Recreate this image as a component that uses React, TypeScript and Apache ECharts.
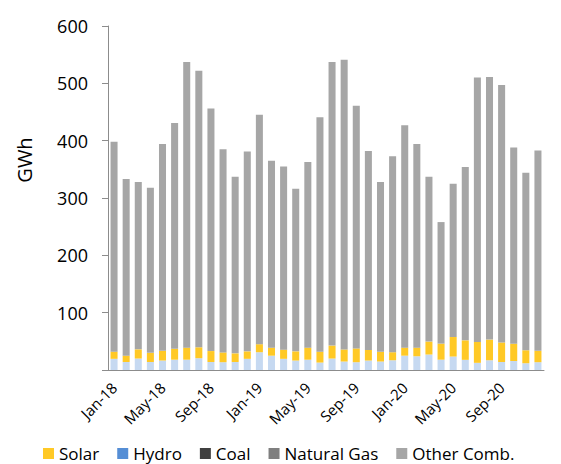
import React, { useEffect, useRef } from 'react';
import * as echarts from 'echarts';

const months = [
  'Jan-18', 'Feb-18', 'Mar-18', 'Apr-18', 'May-18', 'Jun-18', 'Jul-18', 'Aug-18', 'Sep-18', 'Oct-18', 'Nov-18', 'Dec-18',
  'Jan-19', 'Feb-19', 'Mar-19', 'Apr-19', 'May-19', 'Jun-19', 'Jul-19', 'Aug-19', 'Sep-19', 'Oct-19', 'Nov-19', 'Dec-19',
  'Jan-20', 'Feb-20', 'Mar-20', 'Apr-20', 'May-20', 'Jun-20', 'Jul-20', 'Aug-20', 'Sep-20', 'Oct-20', 'Nov-20', 'Dec-20',
];

const hydro = [
  19.5, 14, 20, 14, 16.5, 18, 18, 20.6, 14, 13.6, 14, 19.5,
  31, 25, 19.5, 16.5, 18, 13, 20, 14.8, 13.6, 16.5, 14.8, 17,
  25, 24, 27, 18, 23.5, 17.7, 12.5, 17, 14, 15.7, 11.8, 13.6,
];

const solar = [
  12.5, 11, 16, 16, 17, 19, 21, 19, 19, 17, 15, 13,
  14, 14, 16, 16, 21, 19, 22.6, 21, 24, 18.5, 17, 14,
  14, 15, 22.6, 28, 34, 34, 36.5, 36, 34, 30, 22.6, 20,
];

const coal: number[] = [];
const naturalGas: number[] = [];

const otherComb = [
  366, 308, 292, 288, 360.5, 394, 498, 482.4, 423, 354.4, 308, 348.5,
  400, 326, 319.5, 283.5, 324, 409, 494.4, 505.2, 423.4, 347, 296.2, 342,
  388, 355, 287.4, 212, 267.5, 302.3, 461, 458, 449, 342.3, 309.6, 349.4,
];

const FONT = 'Open Sans';

export default function App() {
  const ref = useRef<HTMLDivElement>(null);
  useEffect(() => {
    if (!ref.current) return;
    const chart = echarts.init(ref.current, null, { renderer: 'svg' });
    const barCommon = {
      type: 'bar' as const,
      stack: 'total',
      barCategoryGap: '42%',
    };
    chart.setOption({
      animation: false,
      textStyle: { fontFamily: FONT },
      grid: { left: 108, right: 17, top: 26, bottom: 94 },
      legend: {
        left: 43,
        top: 445,
        padding: 0,
        itemWidth: 11,
        itemHeight: 11,
        itemGap: 18,
        icon: 'rect',
        textStyle: { fontFamily: FONT, fontSize: 17, lineHeight: 17, color: '#000' },
        data: [
          { name: 'Solar', itemStyle: { color: '#FFC926' } },
          { name: 'Hydro', itemStyle: { color: '#558ED5' } },
          { name: 'Coal', itemStyle: { color: '#404040' } },
          { name: 'Natural Gas', itemStyle: { color: '#7F7F7F' } },
          { name: 'Other Comb.', itemStyle: { color: '#A6A6A6' } },
        ],
      },
      graphic: [
        {
          type: 'text',
          x: 24,
          y: 160,
          rotation: Math.PI / 2,
          style: {
            text: 'GWh',
            fontFamily: FONT,
            fontSize: 20,
            fill: '#000',
            align: 'center',
            verticalAlign: 'middle',
          },
        },
      ],
      xAxis: {
        type: 'category',
        data: months,
        boundaryGap: true,
        axisLine: { lineStyle: { color: '#8C8C8C', width: 1 } },
        axisTick: { interval: 3, length: 5, lineStyle: { color: '#8C8C8C' } },
        axisLabel: {
          interval: 3,
          rotate: 45,
          fontFamily: FONT,
          fontSize: 15,
          color: '#000',
          margin: 15,
        },
      },
      yAxis: {
        type: 'value',
        min: 0,
        max: 600,
        interval: 100,
        splitLine: { show: false },
        axisLine: { show: true, lineStyle: { color: '#8C8C8C', width: 1 } },
        axisTick: { show: true, length: 6, lineStyle: { color: '#8C8C8C' } },
        axisLabel: {
          fontFamily: FONT,
          fontSize: 18,
          color: '#000',
          margin: 20,
          formatter: (v: number) => (v === 0 ? '' : String(v)),
        },
      },
      series: [
        { ...barCommon, name: 'Hydro', data: hydro, itemStyle: { color: '#C6D9F1' } },
        { ...barCommon, name: 'Solar', data: solar, itemStyle: { color: '#FFC926' } },
        { ...barCommon, name: 'Coal', data: coal, itemStyle: { color: '#404040' } },
        { ...barCommon, name: 'Natural Gas', data: naturalGas, itemStyle: { color: '#7F7F7F' } },
        { ...barCommon, name: 'Other Comb.', data: otherComb, itemStyle: { color: '#A6A6A6' } },
      ],
    });
    return () => chart.dispose();
  }, []);
  return (
    <div
      ref={ref}
      style={{ position: 'fixed', left: 0, top: 0, width: 561, height: 464, background: '#fff' }}
    />
  );
}
